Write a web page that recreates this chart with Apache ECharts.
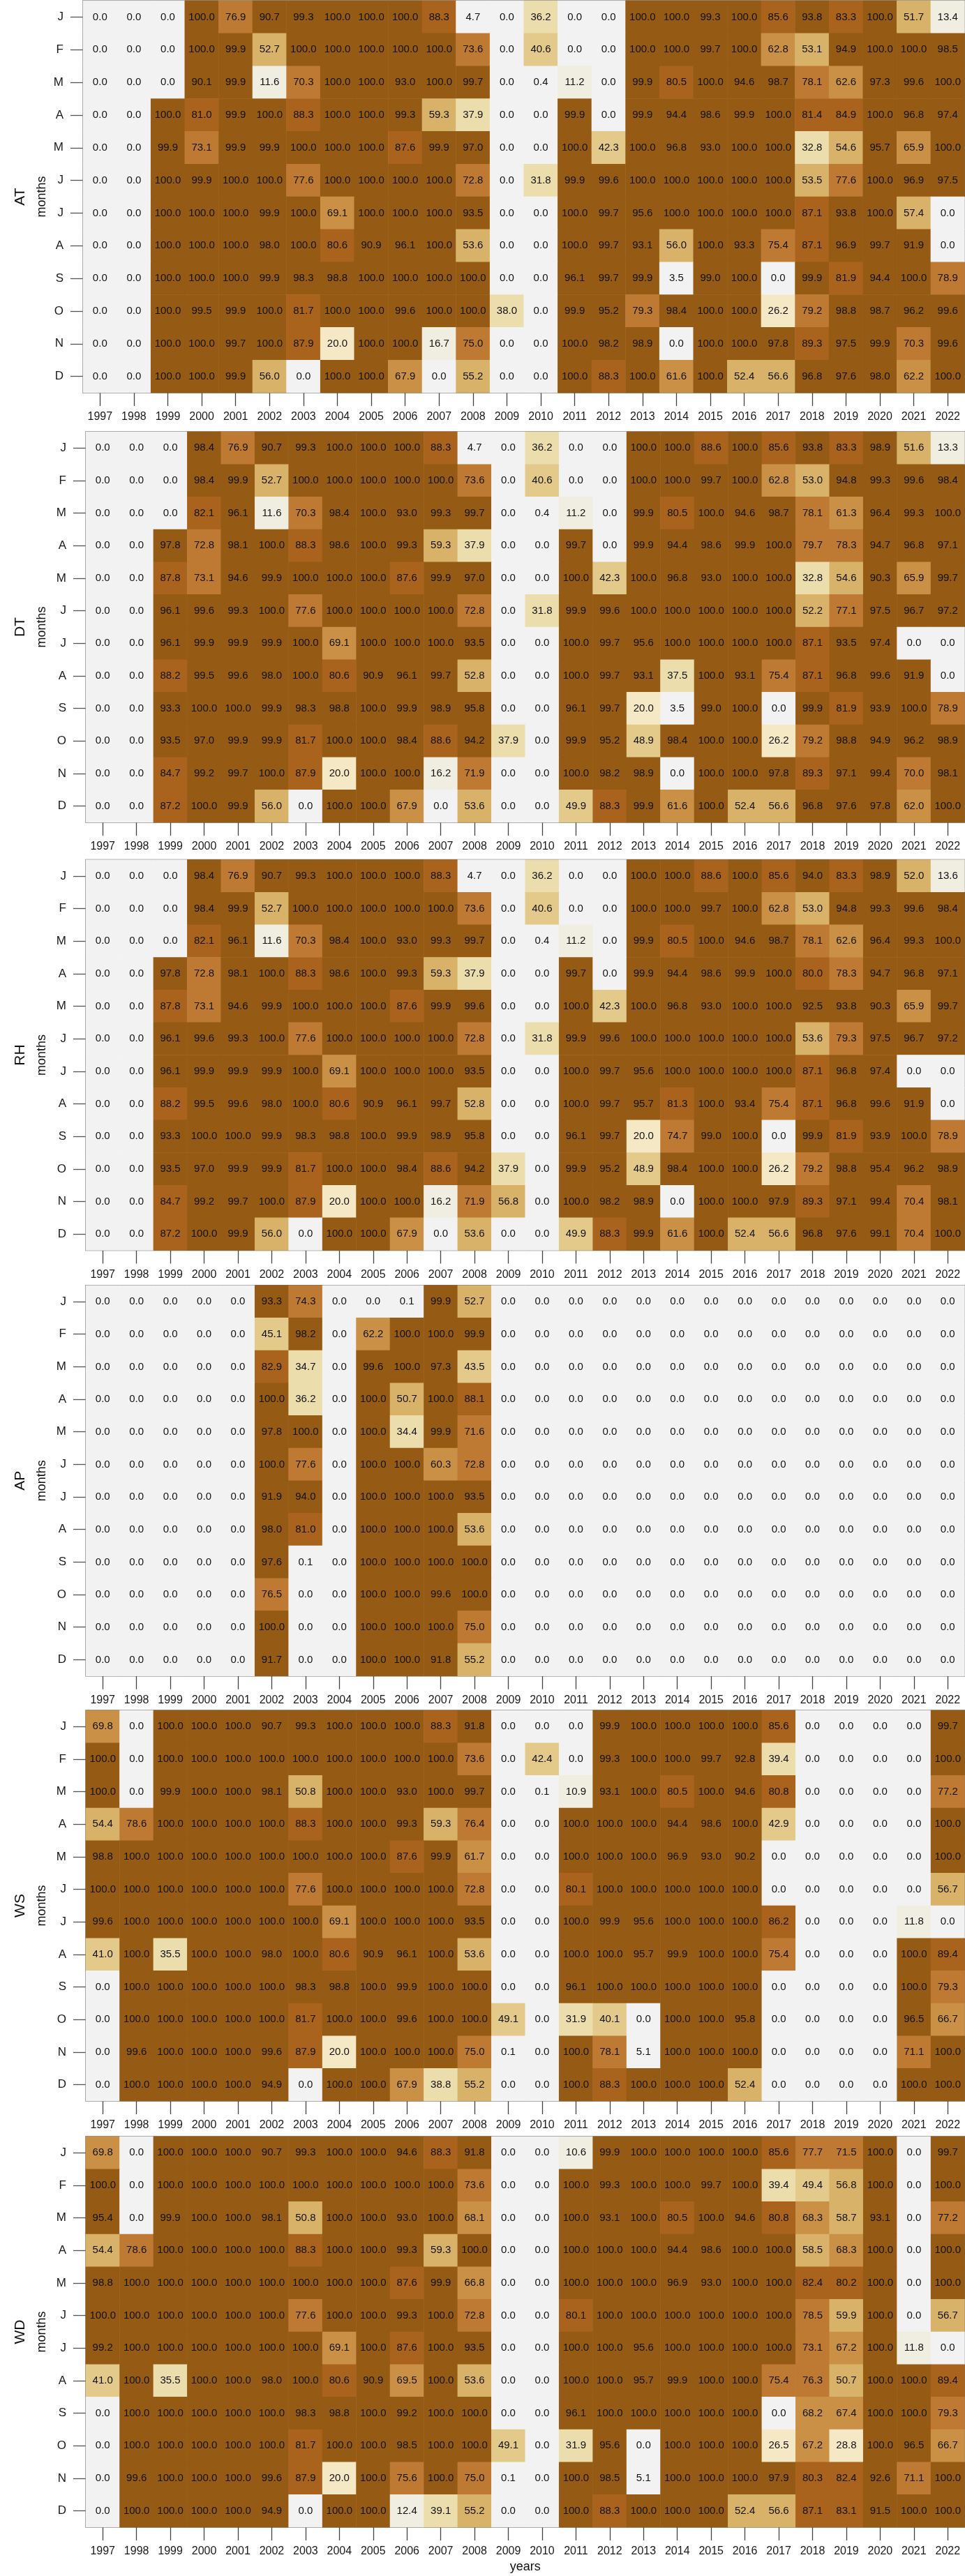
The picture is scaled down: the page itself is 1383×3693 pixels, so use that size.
<!DOCTYPE html>
<html><head><meta charset="utf-8">
<script src="https://cdn.jsdelivr.net/npm/echarts@6/dist/echarts.min.js"></script>
<style>html,body{margin:0;padding:0;background:#fff}#chart{width:1383px;height:3693px}</style>
</head><body><div id="chart"></div>
<script>
const years = ['1997','1998','1999','2000','2001','2002','2003','2004','2005','2006','2007','2008','2009','2010','2011','2012','2013','2014','2015','2016','2017','2018','2019','2020','2021','2022'];
const months = ['J','F','M','A','M','J','J','A','S','O','N','D'];
const panelNames = ['AT','DT','RH','AP','WS','WD'];

const AT = [
[0,0,0,100,76.9,90.7,99.3,100,100,100,88.3,4.7,0, 36.2,0,0,100,100,99.3,100,85.6,93.8,83.3,100,51.7,13.4],
[0,0,0,100,99.9,52.7,100,100,100,100,100,73.6,0, 40.6,0,0,100,100,99.7,100,62.8,53.1,94.9,100,100,98.5],
[0,0,0,90.1,99.9,11.6,70.3,100,100,93.0,100,99.7,0, 0.4,11.2,0,99.9,80.5,100,94.6,98.7,78.1,62.6,97.3,99.6,100],
[0,0,100,81.0,99.9,100,88.3,100,100,99.3,59.3,37.9,0, 0,99.9,0,99.9,94.4,98.6,99.9,100,81.4,84.9,100,96.8,97.4],
[0,0,99.9,73.1,99.9,99.9,100,100,100,87.6,99.9,97.0,0, 0,100,42.3,100,96.8,93.0,100,100,32.8,54.6,95.7,65.9,100],
[0,0,100,99.9,100,100,77.6,100,100,100,100,72.8,0, 31.8,99.9,99.6,100,100,100,100,100,53.5,77.6,100,96.9,97.5],
[0,0,100,100,100,99.9,100,69.1,100,100,100,93.5,0, 0,100,99.7,95.6,100,100,100,100,87.1,93.8,100,57.4,0],
[0,0,100,100,100,98.0,100,80.6,90.9,96.1,100,53.6,0, 0,100,99.7,93.1,56.0,100,93.3,75.4,87.1,96.9,99.7,91.9,0],
[0,0,100,100,100,99.9,98.3,98.8,100,100,100,100,0, 0,96.1,99.7,99.9,3.5,99.0,100,0,99.9,81.9,94.4,100,78.9],
[0,0,100,99.5,99.9,100,81.7,100,100,99.6,100,100,38.0, 0,99.9,95.2,79.3,98.4,100,100,26.2,79.2,98.8,98.7,96.2,99.6],
[0,0,100,100,99.7,100,87.9,20.0,100,100,16.7,75.0,0, 0,100,98.2,98.9,0,100,100,97.8,89.3,97.5,99.9,70.3,99.6],
[0,0,100,100,99.9,56.0,0,100,100,67.9,0,55.2,0, 0,100,88.3,100,61.6,100,52.4,56.6,96.8,97.6,98.0,62.2,100]
];

const DT = [
[0,0,0,98.4,76.9,90.7,99.3,100,100,100,88.3,4.7,0, 36.2,0,0,100,100,88.6,100,85.6,93.8,83.3,98.9,51.6,13.3],
[0,0,0,98.4,99.9,52.7,100,100,100,100,100,73.6,0, 40.6,0,0,100,100,99.7,100,62.8,53.0,94.8,99.3,99.6,98.4],
[0,0,0,82.1,96.1,11.6,70.3,98.4,100,93.0,99.3,99.7,0, 0.4,11.2,0,99.9,80.5,100,94.6,98.7,78.1,61.3,96.4,99.3,100],
[0,0,97.8,72.8,98.1,100,88.3,98.6,100,99.3,59.3,37.9,0, 0,99.7,0,99.9,94.4,98.6,99.9,100,79.7,78.3,94.7,96.8,97.1],
[0,0,87.8,73.1,94.6,99.9,100,100,100,87.6,99.9,97.0,0, 0,100,42.3,100,96.8,93.0,100,100,32.8,54.6,90.3,65.9,99.7],
[0,0,96.1,99.6,99.3,100,77.6,100,100,100,100,72.8,0, 31.8,99.9,99.6,100,100,100,100,100,52.2,77.1,97.5,96.7,97.2],
[0,0,96.1,99.9,99.9,99.9,100,69.1,100,100,100,93.5,0, 0,100,99.7,95.6,100,100,100,100,87.1,93.5,97.4,0,0],
[0,0,88.2,99.5,99.6,98.0,100,80.6,90.9,96.1,99.7,52.8,0, 0,100,99.7,93.1,37.5,100,93.1,75.4,87.1,96.8,99.6,91.9,0],
[0,0,93.3,100,100,99.9,98.3,98.8,100,99.9,98.9,95.8,0, 0,96.1,99.7,20.0,3.5,99.0,100,0,99.9,81.9,93.9,100,78.9],
[0,0,93.5,97.0,99.9,99.9,81.7,100,100,98.4,88.6,94.2,37.9, 0,99.9,95.2,48.9,98.4,100,100,26.2,79.2,98.8,94.9,96.2,98.9],
[0,0,84.7,99.2,99.7,100,87.9,20.0,100,100,16.2,71.9,0, 0,100,98.2,98.9,0,100,100,97.8,89.3,97.1,99.4,70.0,98.1],
[0,0,87.2,100,99.9,56.0,0,100,100,67.9,0,53.6,0, 0,49.9,88.3,99.9,61.6,100,52.4,56.6,96.8,97.6,97.8,62.0,100]
];

const RH = [
[0,0,0,98.4,76.9,90.7,99.3,100,100,100,88.3,4.7,0, 36.2,0,0,100,100,88.6,100,85.6,94.0,83.3,98.9,52.0,13.6],
[0,0,0,98.4,99.9,52.7,100,100,100,100,100,73.6,0, 40.6,0,0,100,100,99.7,100,62.8,53.0,94.8,99.3,99.6,98.4],
[0,0,0,82.1,96.1,11.6,70.3,98.4,100,93.0,99.3,99.7,0, 0.4,11.2,0,99.9,80.5,100,94.6,98.7,78.1,62.6,96.4,99.3,100],
[0,0,97.8,72.8,98.1,100,88.3,98.6,100,99.3,59.3,37.9,0, 0,99.7,0,99.9,94.4,98.6,99.9,100,80.0,78.3,94.7,96.8,97.1],
[0,0,87.8,73.1,94.6,99.9,100,100,100,87.6,99.9,99.6,0, 0,100,42.3,100,96.8,93.0,100,100,92.5,93.8,90.3,65.9,99.7],
[0,0,96.1,99.6,99.3,100,77.6,100,100,100,100,72.8,0, 31.8,99.9,99.6,100,100,100,100,100,53.6,79.3,97.5,96.7,97.2],
[0,0,96.1,99.9,99.9,99.9,100,69.1,100,100,100,93.5,0, 0,100,99.7,95.6,100,100,100,100,87.1,96.8,97.4,0,0],
[0,0,88.2,99.5,99.6,98.0,100,80.6,90.9,96.1,99.7,52.8,0, 0,100,99.7,95.7,81.3,100,93.4,75.4,87.1,96.8,99.6,91.9,0],
[0,0,93.3,100,100,99.9,98.3,98.8,100,99.9,98.9,95.8,0, 0,96.1,99.7,20.0,74.7,99.0,100,0,99.9,81.9,93.9,100,78.9],
[0,0,93.5,97.0,99.9,99.9,81.7,100,100,98.4,88.6,94.2,37.9, 0,99.9,95.2,48.9,98.4,100,100,26.2,79.2,98.8,95.4,96.2,98.9],
[0,0,84.7,99.2,99.7,100,87.9,20.0,100,100,16.2,71.9,56.8, 0,100,98.2,98.9,0,100,100,97.9,89.3,97.1,99.4,70.4,98.1],
[0,0,87.2,100,99.9,56.0,0,100,100,67.9,0,53.6,0, 0,49.9,88.3,99.9,61.6,100,52.4,56.6,96.8,97.6,99.1,70.4,100]
];

const AP = [
[0,0,0,0,0,93.3,74.3,0,0,0.1,99.9,52.7,0, 0,0,0,0,0,0,0,0,0,0,0,0,0],
[0,0,0,0,0,45.1,98.2,0,62.2,100,100,99.9,0, 0,0,0,0,0,0,0,0,0,0,0,0,0],
[0,0,0,0,0,82.9,34.7,0,99.6,100,97.3,43.5,0, 0,0,0,0,0,0,0,0,0,0,0,0,0],
[0,0,0,0,0,100,36.2,0,100,50.7,100,88.1,0, 0,0,0,0,0,0,0,0,0,0,0,0,0],
[0,0,0,0,0,97.8,100,0,100,34.4,99.9,71.6,0, 0,0,0,0,0,0,0,0,0,0,0,0,0],
[0,0,0,0,0,100,77.6,0,100,100,60.3,72.8,0, 0,0,0,0,0,0,0,0,0,0,0,0,0],
[0,0,0,0,0,91.9,94.0,0,100,100,100,93.5,0, 0,0,0,0,0,0,0,0,0,0,0,0,0],
[0,0,0,0,0,98.0,81.0,0,100,100,100,53.6,0, 0,0,0,0,0,0,0,0,0,0,0,0,0],
[0,0,0,0,0,97.6,0.1,0,100,100,100,100,0, 0,0,0,0,0,0,0,0,0,0,0,0,0],
[0,0,0,0,0,76.5,0,0,100,100,99.6,100,0, 0,0,0,0,0,0,0,0,0,0,0,0,0],
[0,0,0,0,0,100,0,0,100,100,100,75.0,0, 0,0,0,0,0,0,0,0,0,0,0,0,0],
[0,0,0,0,0,91.7,0,0,100,100,91.8,55.2,0, 0,0,0,0,0,0,0,0,0,0,0,0,0]
];

const WS = [
[69.8,0,100,100,100,90.7,99.3,100,100,100,88.3,91.8,0, 0,0,99.9,100,100,100,100,85.6,0,0,0,0,99.7],
[100,0,100,100,100,100,100,100,100,100,100,73.6,0, 42.4,0,99.3,100,100,99.7,92.8,39.4,0,0,0,0,100],
[100,0,99.9,100,100,98.1,50.8,100,100,93.0,100,99.7,0, 0.1,10.9,93.1,100,80.5,100,94.6,80.8,0,0,0,0,77.2],
[54.4,78.6,100,100,100,100,88.3,100,100,99.3,59.3,76.4,0, 0,100,100,100,94.4,98.6,100,42.9,0,0,0,0,100],
[98.8,100,100,100,100,100,100,100,100,87.6,99.9,61.7,0, 0,100,100,100,96.9,93.0,90.2,0,0,0,0,0,100],
[100,100,100,100,100,100,77.6,100,100,100,100,72.8,0, 0,80.1,100,100,100,100,100,0,0,0,0,0,56.7],
[99.6,100,100,100,100,100,100,69.1,100,100,100,93.5,0, 0,100,99.9,95.6,100,100,100,86.2,0,0,0,11.8,0],
[41.0,100,35.5,100,100,98.0,100,80.6,90.9,96.1,100,53.6,0, 0,100,100,95.7,99.9,100,100,75.4,0,0,0,100,89.4],
[0,100,100,100,100,100,98.3,98.8,100,99.9,100,100,0, 0,96.1,100,100,100,100,100,0,0,0,0,100,79.3],
[0,100,100,100,100,100,81.7,100,100,99.6,100,100,49.1, 0,31.9,40.1,0,100,100,95.8,0,0,0,0,96.5,66.7],
[0,99.6,100,100,100,99.6,87.9,20.0,100,100,100,75.0,0.1, 0,100,78.1,5.1,100,100,100,0,0,0,0,71.1,100],
[0,100,100,100,100,94.9,0,100,100,67.9,38.8,55.2,0, 0,100,88.3,100,100,100,52.4,0,0,0,0,100,100]
];

const WD = [
[69.8,0,100,100,100,90.7,99.3,100,100,94.6,88.3,91.8,0, 0,10.6,99.9,100,100,100,100,85.6,77.7,71.5,100,0,99.7],
[100,0,100,100,100,100,100,100,100,100,100,73.6,0, 0,100,99.3,100,100,99.7,100,39.4,49.4,56.8,100,0,100],
[95.4,0,99.9,100,100,98.1,50.8,100,100,93.0,100,68.1,0, 0,100,93.1,100,80.5,100,94.6,80.8,68.3,58.7,93.1,0,77.2],
[54.4,78.6,100,100,100,100,88.3,100,100,99.3,59.3,100,0, 0,100,100,100,94.4,98.6,100,100,58.5,68.3,100,0,100],
[98.8,100,100,100,100,100,100,100,100,87.6,99.9,66.8,0, 0,100,100,100,96.9,93.0,100,100,82.4,80.2,100,0,100],
[100,100,100,100,100,100,77.6,100,100,99.3,100,72.8,0, 0,80.1,100,100,100,100,100,100,78.5,59.9,100,0,56.7],
[99.2,100,100,100,100,100,100,69.1,100,87.6,100,93.5,0, 0,100,100,95.6,100,100,100,100,73.1,67.2,100,11.8,0],
[41.0,100,35.5,100,100,98.0,100,80.6,90.9,69.5,100,53.6,0, 0,100,100,95.7,99.9,100,100,75.4,76.3,50.7,100,100,89.4],
[0,100,100,100,100,100,98.3,98.8,100,99.2,100,100,0, 0,96.1,100,100,100,100,100,0,68.2,67.4,100,100,79.3],
[0,100,100,100,100,100,81.7,100,100,98.5,100,100,49.1, 0,31.9,95.6,0,100,100,100,26.5,67.2,28.8,100,96.5,66.7],
[0,99.6,100,100,100,99.6,87.9,20.0,100,75.6,100,75.0,0.1, 0,100,98.5,5.1,100,100,100,97.9,80.3,82.4,92.6,71.1,100],
[0,100,100,100,100,94.9,0,100,100,12.4,39.1,55.2,0, 0,100,88.3,100,100,100,52.4,56.6,87.1,83.1,91.5,100,100]
];

const panelValues = [AT, DT, RH, AP, WS, WD];

// layout (styles only)
const FONT = '"Liberation Sans", Arial, Helvetica, sans-serif';
const layout = [
  {left:119, top:1,      height:562},
  {left:123, top:619,    height:560},
  {left:123, top:1232.5, height:560},
  {left:123, top:1842.7, height:560},
  {left:123, top:2452,   height:560},
  {left:123, top:3063,   height:560}
];
const RIGHT_EDGE = 1382.5;

const pieces = [
  {gte:0,  lt:10,  color:'#F2F2F2'},
  {gte:10, lt:20,  color:'#F0EEE1'},
  {gte:20, lt:30,  color:'#F5E8C4'},
  {gte:30, lt:40,  color:'#ECDDAD'},
  {gte:40, lt:50,  color:'#E3C98A'},
  {gte:50, lt:60,  color:'#D9B26A'},
  {gte:60, lt:70,  color:'#CA9146'},
  {gte:70, lt:80,  color:'#BE7A33'},
  {gte:80, lt:90,  color:'#A9631C'},
  {gte:90, lte:100, color:'#955A13'}
];

const grids = [], xAxes = [], yAxes = [], series = [], graphics = [];
panelNames.forEach((name, i) => {
  const L = layout[i];
  grids.push({left:L.left, top:L.top, width:RIGHT_EDGE - L.left, height:L.height,
    show:true, borderColor:'#707070', borderWidth:1.5, backgroundColor:'transparent', containLabel:false});
  xAxes.push({type:'category', gridIndex:i, data:years, position:'bottom',
    axisLine:{show:false},
    axisTick:{show:true, alignWithLabel:true, length:19, lineStyle:{color:'#444', width:1.3}},
    axisLabel:{interval:0, margin:27, fontSize:16, color:'#1a1a1a', fontFamily:FONT},
    splitLine:{show:false}});
  yAxes.push({type:'category', gridIndex:i, data:months, inverse:true,
    axisLine:{show:false},
    axisTick:{show:true, alignWithLabel:true, length:18, lineStyle:{color:'#555', width:1.3}},
    axisLabel:{interval:0, margin:28, fontSize:17, color:'#1a1a1a', fontFamily:FONT},
    splitLine:{show:false}});
  const vals = panelValues[i];
  const data = [];
  for (let r = 0; r < months.length; r++) {
    for (let c = 0; c < years.length; c++) {
      data.push([c, r, vals[r][c]]);
    }
  }
  series.push({type:'heatmap', name:name, xAxisIndex:i, yAxisIndex:i, data:data,
    progressive:0, animation:false,
    itemStyle:{borderWidth:0},
    emphasis:{disabled:true},
    label:{show:true, fontSize:15, color:'#111', fontFamily:FONT,
      formatter: p => Number(p.value[2]).toFixed(1)}});
  const cy = L.top + L.height / 2;
  graphics.push({type:'text', x:29, y:cy, rotation:Math.PI/2,
    style:{text:name, font:'21px ' + FONT, fill:'#111', align:'center', verticalAlign:'middle', textAlign:'center', textVerticalAlign:'middle'}});
  graphics.push({type:'text', x:60, y:cy, rotation:Math.PI/2,
    style:{text:'months', font:'18px ' + FONT, fill:'#111', align:'center', verticalAlign:'middle', textAlign:'center', textVerticalAlign:'middle'}});
});
graphics.push({type:'text', x:(layout[5].left + RIGHT_EDGE)/2, y:3680,
  style:{text:'years', font:'18px ' + FONT, fill:'#111', align:'center', verticalAlign:'middle', textAlign:'center', textVerticalAlign:'middle'}});

const chart = echarts.init(document.getElementById('chart'), null, {renderer:'canvas'});
chart.setOption({
  animation:false,
  backgroundColor:'#ffffff',
  grid:grids, xAxis:xAxes, yAxis:yAxes, series:series,
  visualMap:{type:'piecewise', show:false, dimension:2, seriesIndex:[0,1,2,3,4,5], pieces:pieces},
  graphic:graphics
});
</script></body></html>
